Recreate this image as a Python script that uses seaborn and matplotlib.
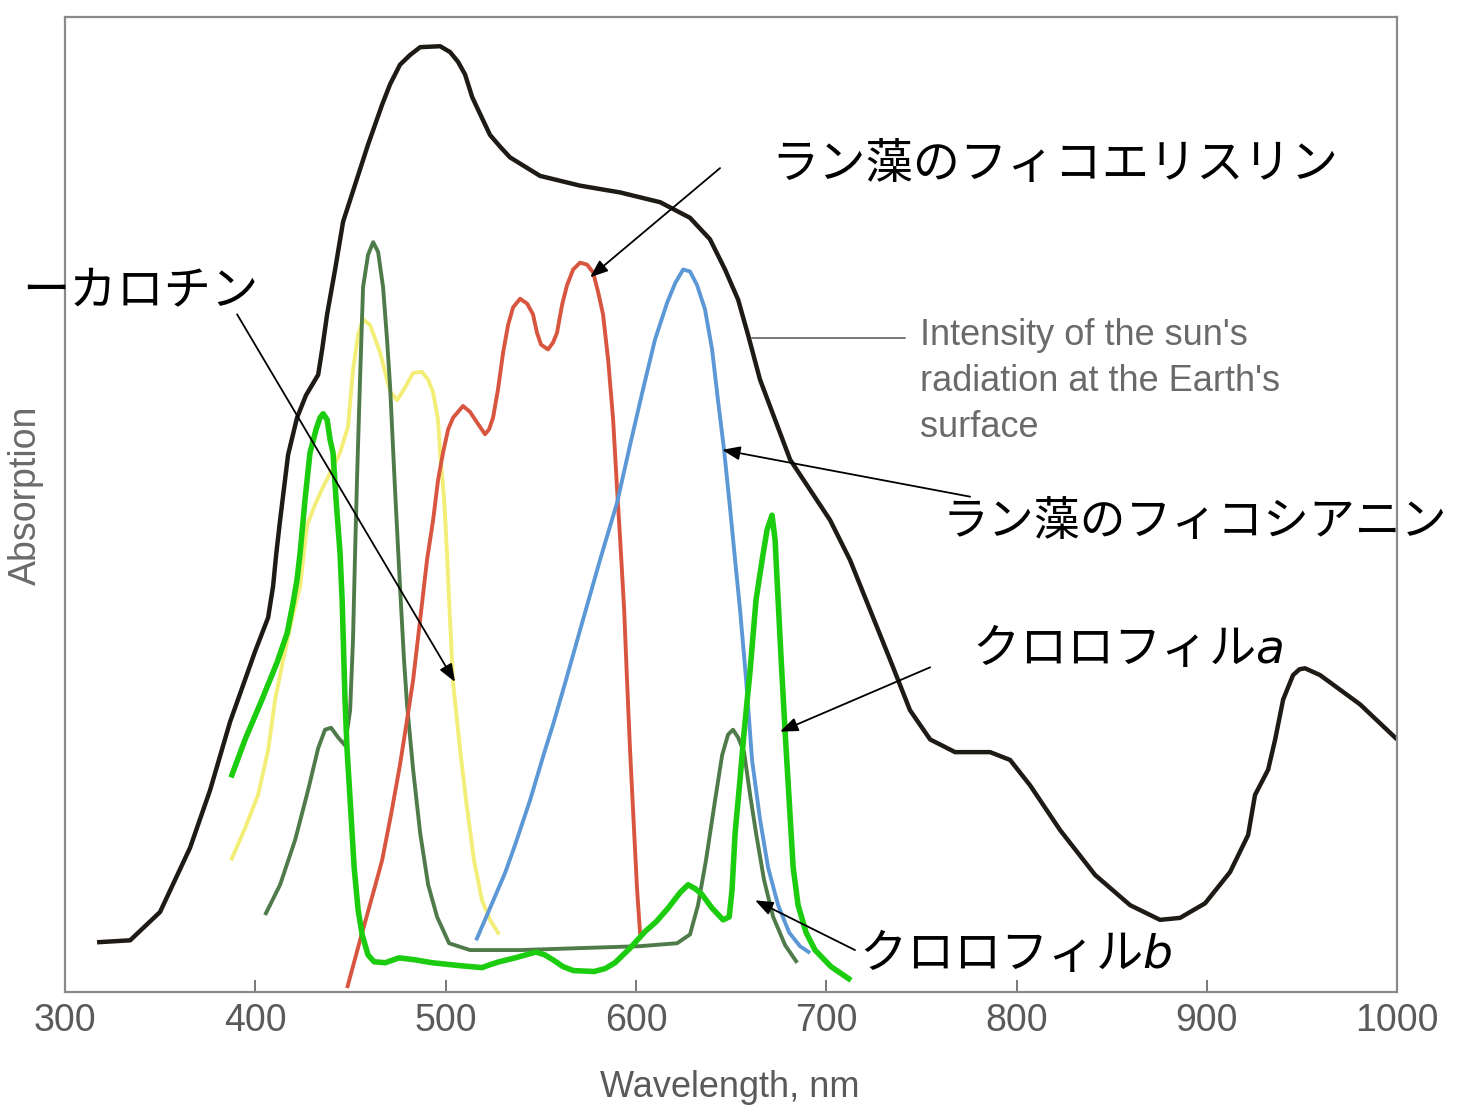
import matplotlib
matplotlib.use("Agg")
import matplotlib.pyplot as plt
import seaborn as sns
import pandas as pd

# ---------------- data (wavelength nm, relative value 0-100) ----------------
sun_x = [316.8, 334.2, 349.9, 365.7, 376.2, 386.7, 399.8, 406.7, 409.3, 410.9, 413.0, 417.2, 421.9,
         426.6, 433.0, 435.1, 437.7, 441.9, 446.1, 452.4, 459.2, 466.6, 470.8, 476.0, 481.3, 486.6,
         497.1, 502.3, 506.5, 510.2, 513.9, 517.0, 523.3, 528.6, 533.8, 549.6, 570.6, 591.7, 612.7,
         628.4, 638.9, 646.8, 653.7, 658.9,
         665.2, 673.1, 681.0, 691.5, 702.0, 712.5, 723.0, 733.5, 744.0, 754.6, 767.7, 786.1, 796.6,
         807.1, 822.9, 841.3, 859.7, 875.4, 885.9, 899.1, 912.2, 921.7, 925.3, 932.2, 935.9, 940.1,
         945.3, 948.7, 951.6, 959.5, 980.5, 1000.0]
sun_y = [5.1, 5.3, 8.2, 14.8, 20.7, 27.7, 34.9, 38.4, 41.6, 44.8, 48.4, 55.1, 58.9,
         61.2, 63.3, 65.9, 69.5, 74.1, 79.0, 82.8, 86.9, 91.0, 93.1, 95.1, 96.1, 96.9,
         97.0, 96.4, 95.4, 94.1, 91.8, 90.5, 87.9, 86.7, 85.6, 83.7, 82.7, 82.0, 81.0,
         79.4, 77.2, 74.1, 71.0, 67.4,
         62.8, 58.7, 54.6, 51.5, 48.4, 44.3, 39.2, 34.1, 28.9, 25.9, 24.6, 24.6, 23.8,
         21.2, 16.6, 12.0, 8.9, 7.4, 7.6, 9.1, 12.3, 16.1, 20.2, 22.8, 25.9, 30.0,
         32.5, 33.1, 33.2, 32.5, 29.5, 25.9]

chlb_x = [405.1, 413.0, 420.9, 427.7, 433.0, 436.6, 439.8, 443.5, 447.1, 449.8, 451.3, 452.4, 453.4,
          455.0, 456.6, 459.2, 461.9, 464.5, 467.1, 469.2, 470.8, 473.4, 476.0, 478.1, 479.7, 482.9,
          486.6, 490.8, 495.5, 501.8, 512.8, 539.1, 570.6, 602.2, 621.6, 628.4, 632.6, 636.8, 641.6,
          645.3, 648.4, 651.0, 653.7, 656.8, 660.0, 663.1, 667.3, 672.1, 678.4, 684.7]
chlb_y = [7.9, 11.0, 15.6, 20.7, 25.0, 26.9, 27.1, 26.1, 25.3, 28.9, 36.1, 45.0, 52.5,
          62.8, 72.3, 75.6, 76.9, 75.9, 72.3, 66.9, 62.1, 51.5, 41.6, 34.1, 29.5, 22.8,
          16.3, 11.0, 7.7, 5.0, 4.3, 4.3, 4.5, 4.7, 5.0, 5.9, 8.9, 13.5, 19.7,
          24.3, 26.4, 26.9, 26.1, 24.6, 20.2, 16.3, 11.5, 7.7, 4.8, 3.0]

car_x = [387.2, 394.6, 401.4, 406.7, 410.4, 414.6, 419.8, 423.5, 427.2, 431.4, 435.6, 440.8, 444.5,
         448.7, 451.3, 454.0, 456.6, 460.3, 465.5, 470.8, 474.5, 478.7, 482.9, 487.6, 490.8, 493.4,
         496.0, 497.1, 499.2, 500.7, 501.8, 503.9, 507.6, 510.7, 514.9, 519.1, 523.3, 528.1]
car_y = [13.5, 16.8, 20.2, 24.8, 30.0, 34.1, 38.7, 41.6, 47.9, 50.0, 51.8, 53.8, 55.3,
         58.0, 63.8, 67.4, 69.0, 68.4, 65.6, 61.6, 60.7, 62.0, 63.5, 63.6, 62.8, 61.5,
         58.7, 55.3, 50.5, 45.0, 40.2, 31.7, 24.8, 19.7, 13.5, 9.4, 7.4, 5.9]

pe_x = [448.2, 455.0, 462.4, 466.6, 471.3, 476.0, 479.7, 482.9, 486.6, 490.2, 493.4, 496.0, 498.6,
        501.3, 503.9, 509.1, 512.8, 516.5, 520.7, 522.8, 524.9, 527.5, 530.2, 532.8, 535.4, 539.1,
        542.8, 545.9, 548.0, 550.1, 553.8, 556.4, 558.5, 561.2, 563.8, 567.0, 570.6, 574.3, 577.5,
        580.1, 582.7, 585.4, 588.0, 590.1, 591.7, 593.8, 595.3, 596.9, 599.0, 600.6, 602.2]
pe_y = [0.4, 5.3, 10.5, 13.5, 18.2, 23.3, 27.9, 32.0, 38.2, 44.3, 48.4, 52.5, 55.3,
        57.7, 58.9, 60.1, 59.5, 58.4, 57.2, 57.7, 58.9, 61.8, 65.6, 68.4, 70.2, 71.1,
        70.6, 69.5, 67.6, 66.4, 65.9, 66.6, 67.6, 70.5, 72.5, 74.1, 74.8, 74.6, 73.8,
        71.8, 69.5, 64.8, 58.7, 51.5, 46.4, 39.2, 32.0, 24.8, 16.6, 10.5, 5.9]

pc_x = [516.0, 523.3, 531.2, 536.5, 544.4, 552.2, 556.4, 562.8, 572.2, 581.1, 590.1, 596.9, 603.7,
        610.0, 616.4, 620.6, 624.8, 628.4, 632.1, 636.3, 640.0, 643.1, 646.3, 649.5, 652.1, 654.7,
        657.9, 661.0, 665.2, 669.4, 674.7, 680.5, 686.2, 691.5]
pc_y = [5.3, 8.6, 12.2, 15.1, 19.7, 24.8, 27.4, 31.7, 38.2, 44.3, 50.2, 56.1, 61.8,
        66.9, 70.7, 72.7, 74.1, 73.9, 72.5, 70.0, 65.9, 60.7, 55.6, 49.5, 44.3, 39.2,
        32.0, 23.8, 17.7, 12.8, 8.9, 6.1, 4.7, 4.0]

chla_x = [387.2, 394.6, 403.5, 411.4, 416.7, 419.8, 421.9, 423.5, 426.1, 428.7, 431.9, 434.0, 435.6,
          437.7, 439.3, 440.8, 442.4, 444.5, 445.6, 447.1, 448.2, 449.8, 451.9, 454.0, 456.1, 459.2,
          462.4, 468.2, 475.5, 483.9, 492.9, 507.6, 519.1, 523.3, 528.1, 536.5, 547.5, 552.2, 556.4,
          561.7, 567.0, 578.0, 583.8, 589.0, 596.9, 604.8, 610.6, 616.9, 623.2, 627.4, 631.1, 634.7,
          640.0, 645.8, 649.0, 650.5, 652.1, 654.7, 656.8, 660.0, 663.1, 666.3, 668.9, 671.5, 673.1,
          674.7, 676.3, 678.4, 680.5, 682.6, 685.2, 689.4, 694.1, 702.5, 713.0]
chla_y = [22.0, 25.9, 30.0, 33.8, 36.8, 39.9, 42.3, 45.0, 50.5, 55.3, 57.7, 58.9, 59.3,
          58.7, 56.6, 55.3, 50.5, 45.0, 40.2, 30.0, 24.8, 19.7, 12.8, 8.4, 5.9, 3.8,
          3.1, 3.0, 3.5, 3.3, 3.0, 2.7, 2.5, 2.8, 3.1, 3.5, 4.1, 3.8, 3.3,
          2.6, 2.2, 2.1, 2.4, 3.0, 4.5, 6.2, 7.2, 8.6, 10.2, 11.0, 10.6, 10.0,
          8.6, 7.4, 7.7, 10.5, 16.3, 21.8, 26.6, 33.0, 40.2, 44.3, 47.4, 48.9, 46.4,
          40.2, 34.1, 26.6, 19.7, 12.8, 8.9, 6.1, 4.3, 2.6, 1.2]

xticks = [300, 400, 500, 600, 700, 800, 900, 1000]

label_pe = "ラン藻のフィコエリスリン"
label_car = "ーカロチン"
label_pc = "ラン藻のフィコシアニン"
label_chla = "クロロフィル$a$"
label_chlb = "クロロフィル$b$"
label_sun = "Intensity of the sun's\nradiation at the Earth's\nsurface"
xlabel = "Wavelength, nm"
ylabel = "Absorption"

# ---------------- styling ----------------
sns.set_theme(style="white")
plt.rcParams['font.family'] = ['Noto Sans CJK JP', 'DejaVu Sans']
plt.rcParams['mathtext.fontset'] = 'dejavusans'

fig = plt.figure(figsize=(14.59, 11.08), dpi=100)
ax = fig.add_axes([0.0446, 0.1047, 0.913, 0.880])

series = [
    (sun_x, sun_y, "#1e1b17", 3.2),
    (car_x, car_y, "#f2ee78", 2.8),
    (chlb_x, chlb_y, "#4f7b4a", 2.8),
    (pe_x, pe_y, "#d8553f", 2.8),
    (pc_x, pc_y, "#5c98d6", 2.8),
    (chla_x, chla_y, "#1ccc0e", 4.0),
]
for xs, ys, col, lw in series:
    df = pd.DataFrame({"x": xs, "y": ys})
    sns.lineplot(data=df, x="x", y="y", ax=ax, color=col, linewidth=lw,
                 sort=False, estimator=None, solid_capstyle="butt")

ax.set_xlim(300, 1000)
ax.set_ylim(0, 100)
ax.set_xticks(xticks)
ax.set_xticklabels([])
ax.set_yticks([])
ax.set_xlabel("")
ax.set_ylabel("")
ax.tick_params(axis="x", direction="in", length=9, width=1.4, color="#777777", bottom=True)
for s in ax.spines.values():
    s.set_color("#8a8a8a")
    s.set_linewidth(1.6)

gray_font = ['Liberation Sans Narrow', 'Liberation Sans', 'DejaVu Sans']
for t in xticks:
    ax.text(t, -3.0, str(t), ha="center", va="center", fontsize=27, color="#5a5a5a",
            family=gray_font, transform=ax.transData, clip_on=False)

fig.text(0.5003, 0.0185, xlabel, ha="center", va="center", fontsize=26, color="#5a5a5a",
         family=gray_font)
fig.text(0.0175, 0.553, ylabel, ha="center", va="center", fontsize=27, color="#6a6a6a",
         rotation=90, family=gray_font)

# sun label with leader line
ax.plot([661.0, 741.4], [67.1, 67.1], color="#777777", lw=1.4)
fig.text(0.6306, 0.7130, label_sun, ha="left", va="top", fontsize=26, color="#6a6a6a",
         family=gray_font, linespacing=1.4)

jp = dict(fontsize=34, color="black", va="center", ha="left")
fig.text(0.529, 0.851, label_pe, **jp)
fig.text(0.0150, 0.7365, label_car, **jp)
fig.text(0.6460, 0.5289, label_pc, fontsize=33, color="black", va="center", ha="left")
fig.text(0.6665, 0.4134, label_chla, **jp)
fig.text(0.5890, 0.1381, label_chlb, **jp)

arrows = [
    ((644.2, 84.5), (575.9, 73.3)),
    ((390.4, 69.5), (504.9, 31.8)),
    ((775.6, 50.8), (645.3, 55.6)),
    ((754.6, 33.3), (675.7, 26.7)),
    ((715.1, 4.3), (662.6, 9.4)),
]
for start, tip in arrows:
    ax.annotate("", xy=tip, xytext=start,
                arrowprops=dict(arrowstyle="-|>,head_length=0.9,head_width=0.35",
                                color="black", lw=1.3, shrinkA=0, shrinkB=0))

fig.savefig("out.png", dpi=100)
